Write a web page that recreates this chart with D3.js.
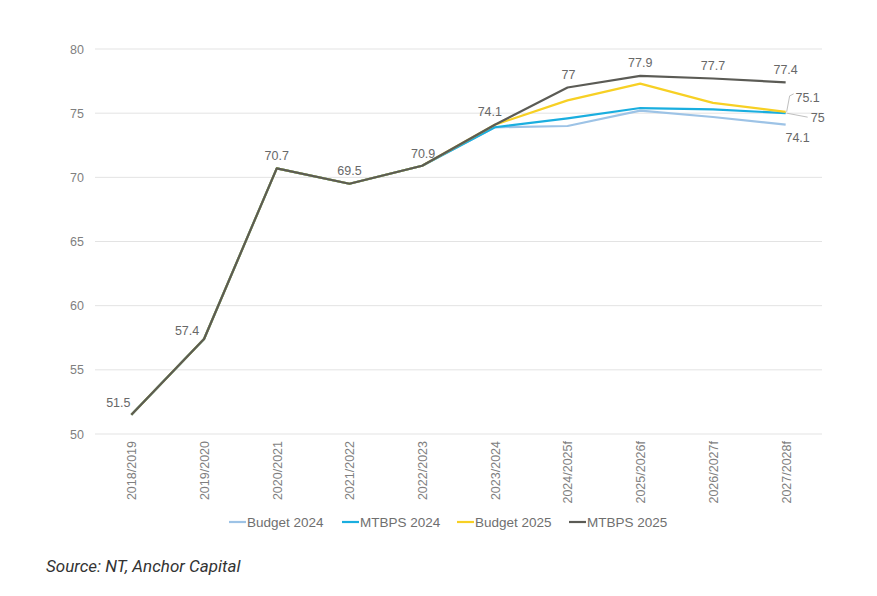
<!DOCTYPE html>
<html>
<head>
<meta charset="utf-8">
<script src="https://cdn.jsdelivr.net/npm/d3@7"></script>
<style>
  body { margin: 0; background: #fff; }
  svg { display: block; }
</style>
</head>
<body>
<svg id="chart" width="877" height="596"></svg>
<script>
// categories and values
const years = ["2018/2019", "2019/2020", "2020/2021", "2021/2022", "2022/2023",
               "2023/2024", "2024/2025f", "2025/2026f", "2026/2027f", "2027/2028f"];
const budget2024 = [51.5, 57.4, 70.7, 69.5, 70.9, 73.9, 74.0, 75.2, 74.7, 74.1];
const mtbps2024  = [51.5, 57.4, 70.7, 69.5, 70.9, 73.9, 74.6, 75.4, 75.3, 75.0];
const budget2025 = [51.5, 57.4, 70.7, 69.5, 70.9, 74.1, 76.0, 77.3, 75.8, 75.1];
const mtbps2025  = [51.5, 57.4, 70.7, 69.5, 70.9, 74.1, 77.0, 77.9, 77.7, 77.4];
const yTicks = [50, 55, 60, 65, 70, 75, 80];

const series = [
    { name: "Budget 2024", values: budget2024, color: "#9dc3e6" },
    { name: "MTBPS 2024", values: mtbps2024, color: "#1aaedf" },
    { name: "Budget 2025", values: budget2025, color: "#f7d024" },
    { name: "MTBPS 2025", values: mtbps2025, color: "#5b5b55" }
];

const svg = d3.select("#chart");

const x = d3.scalePoint().domain(years).range([95, 822]).padding(0.5);
const y = d3.scaleLinear().domain([50, 80]).range([434, 49]);

// gridlines
svg.append("g")
    .selectAll("line")
    .data(yTicks)
    .join("line")
    .attr("x1", 95).attr("x2", 822)
    .attr("y1", d => y(d)).attr("y2", d => y(d))
    .attr("stroke", "#e3e3e3")
    .attr("stroke-width", 1);

// y axis labels
const yAxis = svg.append("g")
    .attr("transform", "translate(95,0)")
    .call(d3.axisLeft(y).tickValues(yTicks).tickSize(0).tickPadding(11));
yAxis.select(".domain").remove();
yAxis.selectAll("text")
    .attr("fill", "#7f7f7f")
    .attr("font-family", "Liberation Sans, Arial, sans-serif")
    .attr("font-size", "12.5px");

// x axis labels (rotated)
const xAxis = svg.append("g")
    .attr("transform", "translate(0,434)")
    .call(d3.axisBottom(x).tickSize(0));
xAxis.select(".domain").remove();
xAxis.selectAll("text")
    .attr("fill", "#7f7f7f")
    .attr("font-family", "Liberation Sans, Arial, sans-serif")
    .attr("font-size", "12.5px")
    .attr("transform", "rotate(-90)")
    .attr("text-anchor", "end")
    .attr("x", -7)
    .attr("y", 0)
    .attr("dy", "0.35em");

// lines
const line = d3.line()
    .x((d, i) => x(years[i]))
    .y(d => y(d));

svg.append("g")
    .selectAll("path")
    .data(series)
    .join("path")
    .attr("d", d => line(d.values))
    .attr("fill", "none")
    .attr("stroke", d => d.color)
    .attr("stroke-width", 2.2)
    .attr("stroke-linejoin", "round");

// data labels
const labelFont = "Liberation Sans, Arial, sans-serif";
const blackOffsets = [[-13, -12], [-17, -9], [0, -13], [0, -13], [1, -12],
                      [-5, -13], [1, -13], [0, -13], [0, -13], [0, -13]];

const labels = svg.append("g")
    .attr("font-family", labelFont)
    .attr("font-size", "12.5px")
    .attr("fill", "#686868")
    .attr("text-anchor", "middle");

labels.selectAll("text.mt25")
    .data(mtbps2025)
    .join("text")
    .attr("class", "mt25")
    .attr("x", (d, i) => x(years[i]) + blackOffsets[i][0])
    .attr("y", (d, i) => y(d) + blackOffsets[i][1] + 4.5)
    .text(d => d);

const last = years.length - 1;
const lx = x(years[last]);

// Budget 2025 last label with leader
const yb25 = y(budget2025[last]);
svg.append("path")
    .attr("d", `M${lx + 1},${yb25} L${lx + 4},${yb25 - 16} L${lx + 8},${yb25 - 18}`)
    .attr("fill", "none").attr("stroke", "#bfbfbf").attr("stroke-width", 1);
labels.append("text")
    .attr("x", lx + 22).attr("y", yb25 - 14 + 4.5)
    .text(budget2025[last]);

// MTBPS 2024 last label with leader
const ym24 = y(mtbps2024[last]);
svg.append("path")
    .attr("d", `M${lx + 1},${ym24} L${lx + 22},${ym24 + 4}`)
    .attr("fill", "none").attr("stroke", "#bfbfbf").attr("stroke-width", 1);
labels.append("text")
    .attr("x", lx + 32).attr("y", ym24 + 4 + 4.5)
    .text(mtbps2024[last]);

// Budget 2024 last label below
labels.append("text")
    .attr("x", lx + 12).attr("y", y(budget2024[last]) + 13 + 4.5)
    .text(budget2024[last]);

// legend
const legendX = [229, 342, 457, 569];
const legend = svg.append("g")
    .selectAll("g")
    .data(series)
    .join("g")
    .attr("transform", (d, i) => `translate(${legendX[i]},522)`);
legend.append("line")
    .attr("x1", 0).attr("x2", 17)
    .attr("stroke", d => d.color)
    .attr("stroke-width", 2.2);
legend.append("text")
    .attr("x", 18)
    .attr("dy", "0.35em")
    .attr("font-family", labelFont)
    .attr("font-size", "13.5px")
    .attr("fill", "#6f6f6f")
    .text(d => d.name);

// source note
svg.append("text")
    .attr("x", 46).attr("y", 572)
    .attr("font-family", "Roboto, sans-serif")
    .attr("font-style", "italic")
    .attr("font-size", "17px")
    .attr("fill", "#333")
    .text("Source: NT, Anchor Capital");
</script>
</body>
</html>
